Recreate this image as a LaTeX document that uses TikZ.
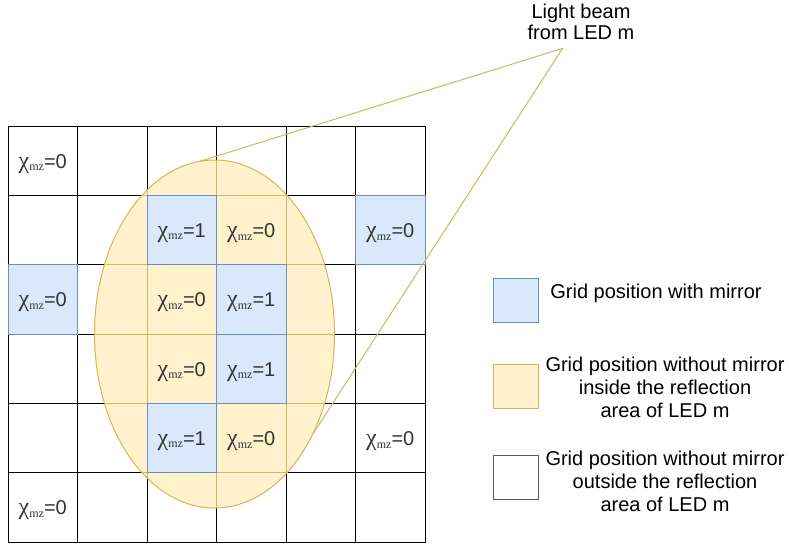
\documentclass[tikz,border=0pt]{standalone}
\usepackage{fontspec}
\setmainfont{Liberation Sans}
\newfontfamily\serifchi{Liberation Serif}
\usetikzlibrary{shapes.geometric}
\definecolor{bfill}{HTML}{DAE8FC}
\definecolor{bline}{HTML}{6C8EBF}
\definecolor{yfill}{HTML}{FFF2CC}
\definecolor{yline}{HTML}{D6B656}
\definecolor{txt}{HTML}{333333}
\newcommand{\chimz}[1]{{\serifchi\fontsize{24}{24}\selectfont χ}\raisebox{-0.25ex}{\serifchi\fontsize{12}{12}\selectfont mz}{=}#1}
\begin{document}
\begin{tikzpicture}[x=1pt,y=-1pt,
  cellbox/.style={draw=black,line width=1pt,minimum width=69.5pt,minimum height=69.33pt,inner sep=0pt,outer sep=0pt},
  mirror/.style={draw=bline,fill=bfill,line width=1pt},
  yl/.style={draw=yline,line width=1pt},
  lab/.style={text=txt,font=\fontsize{20}{20}\selectfont,inner sep=0pt,yshift=-3pt},
  legtext/.style={align=center,font=\fontsize{20}{23}\selectfont,inner sep=0pt},
  legbox/.style={minimum width=45pt,minimum height=44pt,inner sep=0pt,line width=1pt}
]
\useasboundingbox[fill=white] (0,0) rectangle (789,550);
% grid cells
\foreach \r in {0,...,5}{
  \foreach \c in {0,...,5}{
    \node[cellbox] (c\r\c) at ({8+69.5*(\c+0.5)},{126+69.333*(\r+0.5)}) {};
  }
}
% reflection area
\node[ellipse,fill=yfill,draw=yline,line width=1pt,minimum width=240pt,minimum height=348pt,inner sep=0pt,outer sep=0pt] (beam) at (214.5,334) {};
\begin{scope}
  \clip (214.5,334) ellipse (120pt and 174pt);
  \foreach \r in {0,...,5}{
    \foreach \c in {0,...,5}{
      \draw[yl] (c\r\c.south west) rectangle (c\r\c.north east);
    }
  }
\end{scope}
% mirrors
\foreach \rc in {12,15,20,23,33,42}{
  \draw[mirror] (c\rc.south west) rectangle (c\rc.north east);
}
% light beam
\coordinate (led) at (562.7,48.3);
\draw[yl] (led) -- (beam.95.9);
\draw[yl] (led) -- (beam.-46.9);
\node[legtext,font=\fontsize{20}{21}\selectfont] (title) at (581,22) {Light beam\\from LED m};
% labels
\node[lab] (l00) at (c00) {\chimz{0}};
\node[lab] (l12) at (c12) {\chimz{1}};
\node[lab] (l13) at (c13) {\chimz{0}};
\node[lab] (l15) at (c15) {\chimz{0}};
\node[lab] (l20) at (c20) {\chimz{0}};
\node[lab] (l22) at (c22) {\chimz{0}};
\node[lab] (l23) at (c23) {\chimz{1}};
\node[lab] (l32) at (c32) {\chimz{0}};
\node[lab] (l33) at (c33) {\chimz{1}};
\node[lab] (l42) at (c42) {\chimz{1}};
\node[lab] (l43) at (c43) {\chimz{0}};
\node[lab] (l45) at (c45) {\chimz{0}};
\node[lab] (l50) at (c50) {\chimz{0}};
% legend
\node[legbox,draw=bline,fill=bfill] (kb) at (515.5,300) {};
\node[legbox,draw=yline,fill=yfill] (ky) at (515.5,386) {};
\node[legbox,draw=black!65,fill=white] (kw) at (515.5,477) {};
\node[legtext] (tb) at (656,293) {Grid position with mirror};
\node[legtext] (ty) at (665,387) {Grid position without mirror\\inside the reflection\\area of LED m};
\node[legtext] (tw) at (665,481) {Grid position without mirror\\outside the reflection\\area of LED m};
\end{tikzpicture}
\end{document}
